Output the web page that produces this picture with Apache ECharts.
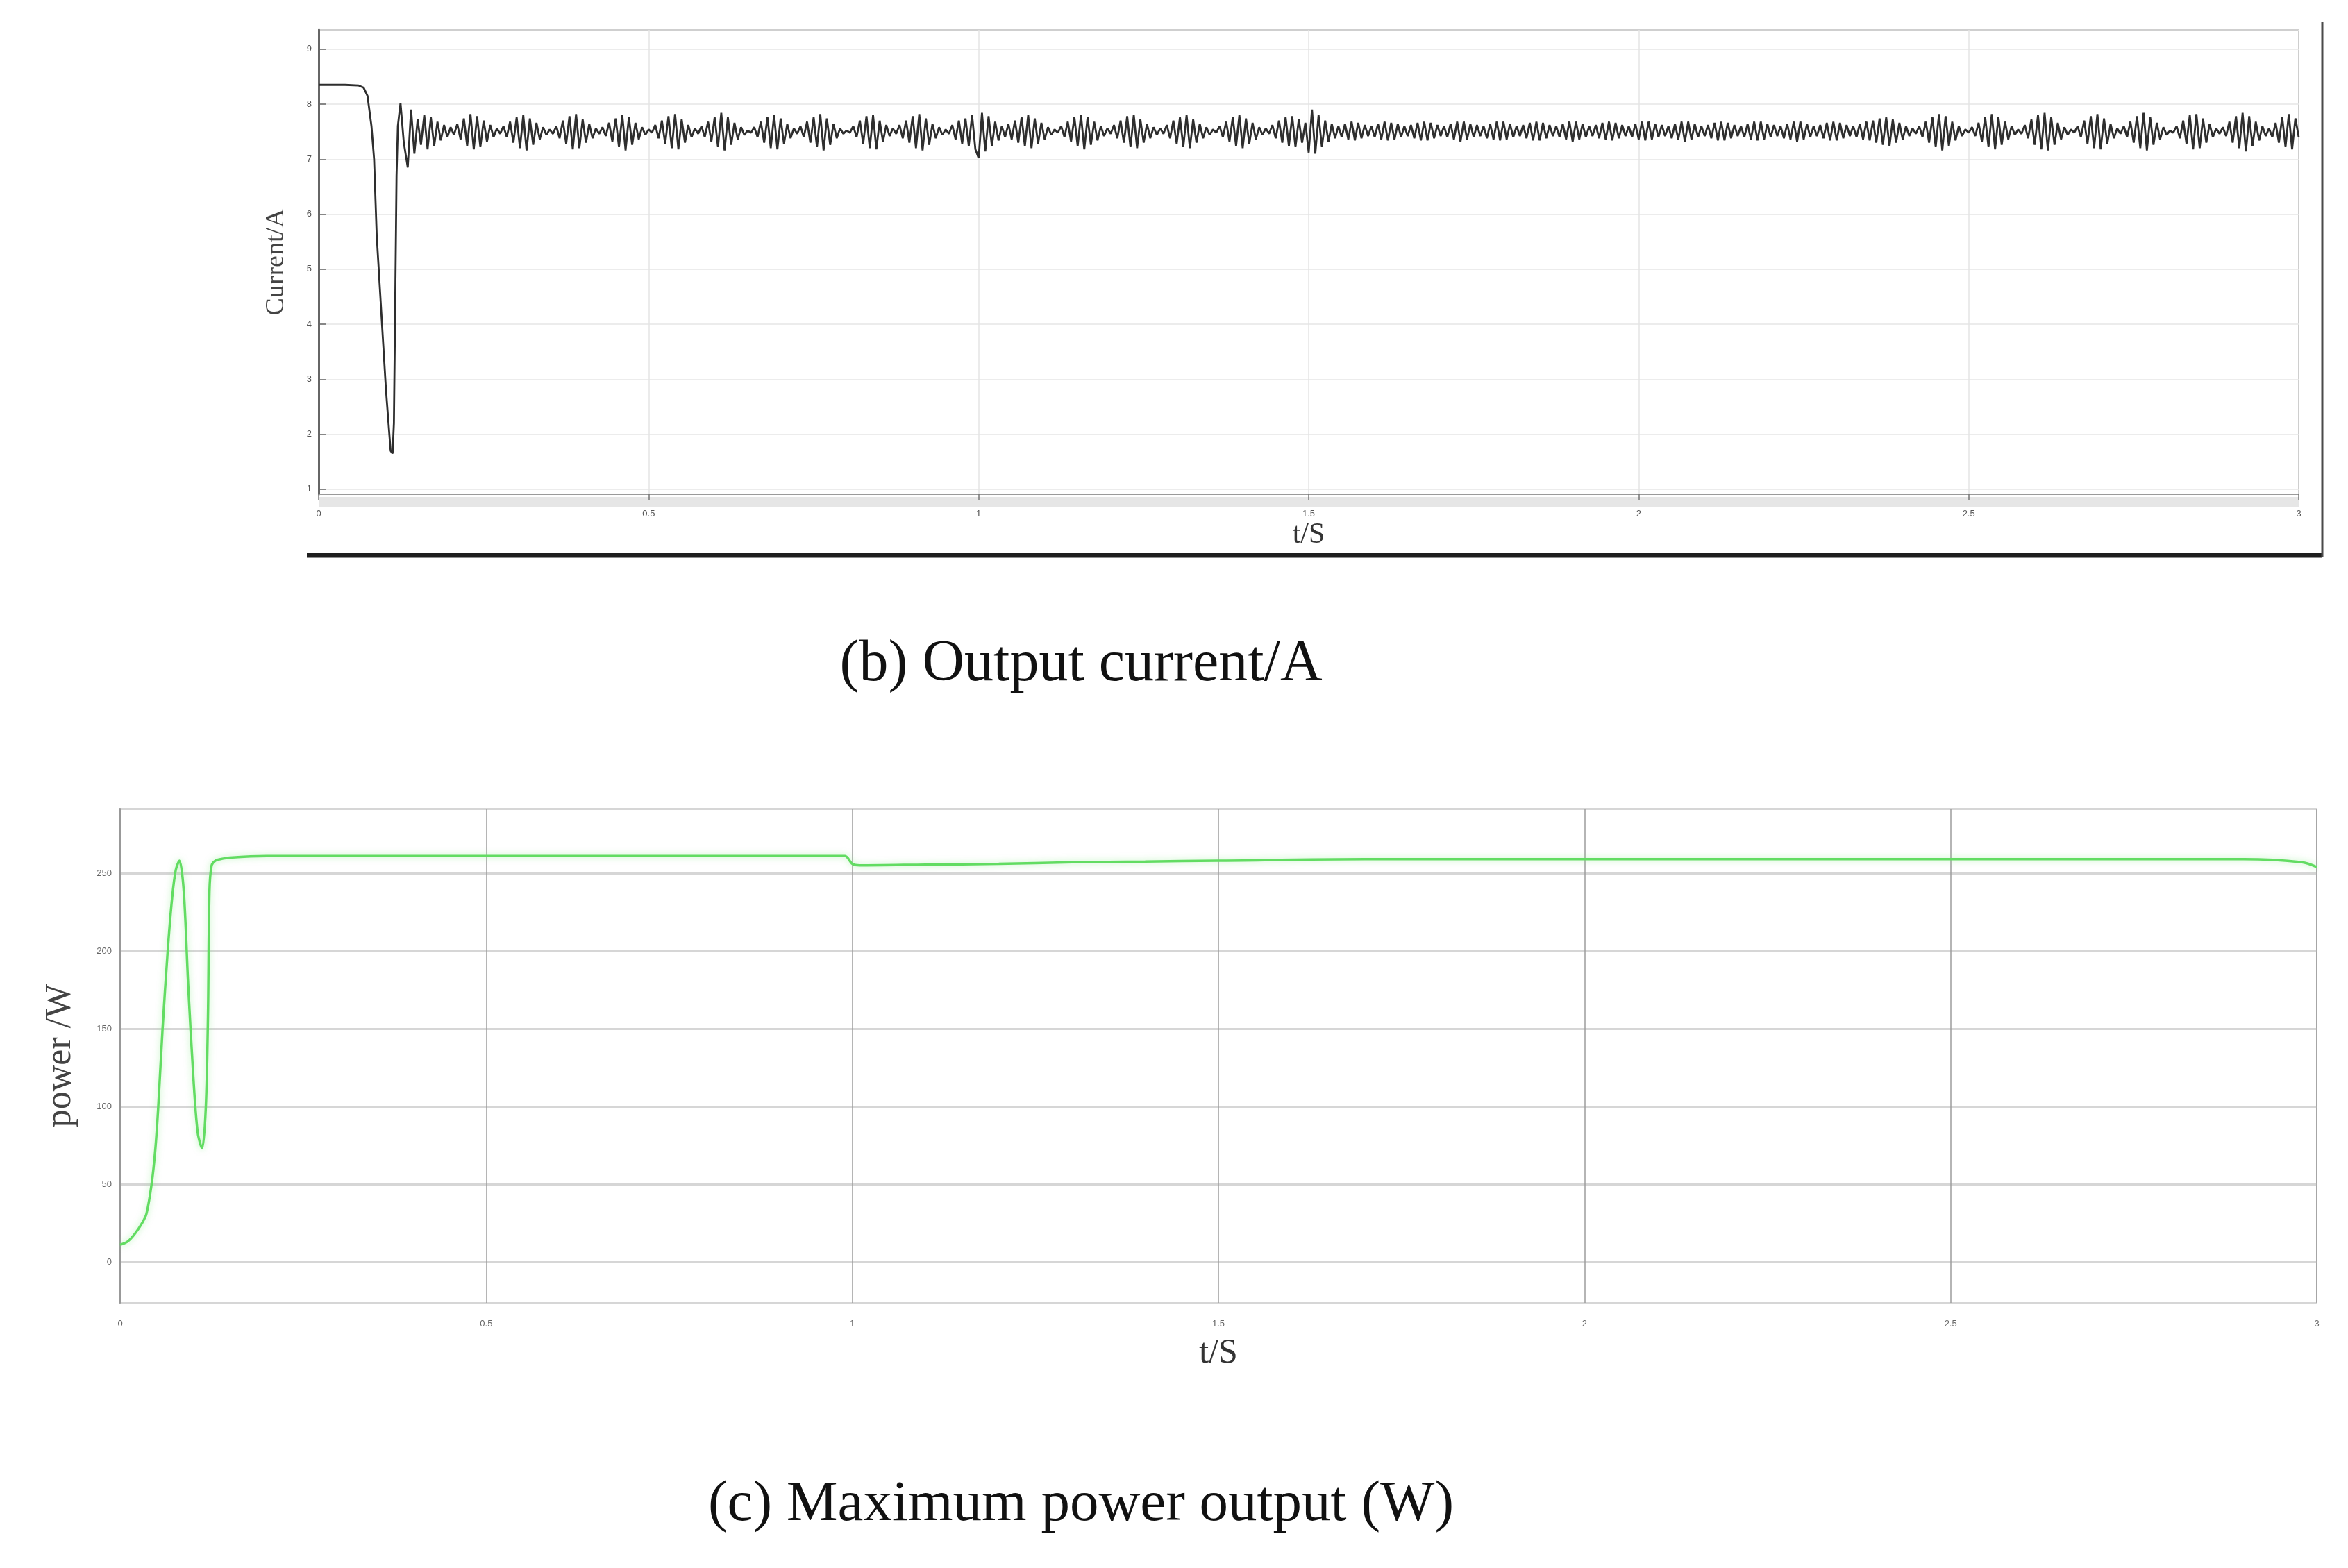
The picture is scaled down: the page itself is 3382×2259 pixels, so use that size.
<!DOCTYPE html>
<html>
<head>
<meta charset="utf-8">
<script src="https://cdn.jsdelivr.net/npm/echarts@6/dist/echarts.min.js"></script>
<style>
html,body{margin:0;padding:0;background:#fff;}
#chart{width:3382px;height:2259px;}
</style>
</head>
<body>
<div id="chart"></div>
<script>
// ---- Data ----
const xTicks = [0, 0.5, 1, 1.5, 2, 2.5, 3];
const currentTicks = [1, 2, 3, 4, 5, 6, 7, 8, 9];
const powerTicks = [0, 50, 100, 150, 200, 250];

// (b) output current: start-up transient (time s, current A)
const currentTransientT = [0, 0.02, 0.04, 0.06, 0.068, 0.074, 0.08, 0.084, 0.088, 0.095, 0.102, 0.109, 0.112, 0.114, 0.116, 0.118, 0.12, 0.124, 0.129, 0.135, 0.14, 0.145];
const currentTransientV = [8.35, 8.35, 8.35, 8.34, 8.3, 8.15, 7.6, 7.0, 5.6, 4.2, 2.8, 1.7, 1.65, 2.2, 4.4, 6.7, 7.6, 8.02, 7.3, 6.85, 7.9, 7.1];
// (b) steady ripple, sampled every 5 ms from 0.15 s
const currentSteadyStart = 0.15;
const currentSteadyStep = 0.005;
const currentSteady = [
7.72,7.26,7.80,7.18,7.76,7.24,7.68,7.34,7.62,7.40,7.58,7.44,7.64,7.36,7.74,7.24,7.82,7.18,7.78,7.22,
7.70,7.32,7.62,7.40,7.56,7.46,7.60,7.40,7.68,7.30,7.76,7.20,7.80,7.16,7.74,7.26,7.66,7.36,7.58,7.44,
7.54,7.46,7.60,7.38,7.70,7.28,7.78,7.18,7.82,7.20,7.72,7.30,7.64,7.38,7.56,7.46,7.58,7.42,7.66,7.32,
7.74,7.22,7.80,7.16,7.76,7.26,7.66,7.36,7.58,7.44,7.54,7.48,7.62,7.38,7.70,7.28,7.78,7.20,7.82,7.18,
7.72,7.30,7.62,7.40,7.56,7.46,7.60,7.40,7.68,7.32,7.76,7.22,7.84,7.16,7.76,7.26,7.66,7.36,7.58,7.44,
7.52,7.48,7.58,7.40,7.68,7.30,7.76,7.20,7.80,7.18,7.74,7.28,7.64,7.38,7.56,7.46,7.60,7.40,7.68,7.30,
7.76,7.22,7.82,7.16,7.74,7.26,7.64,7.38,7.56,7.46,7.52,7.48,7.60,7.40,7.70,7.28,7.78,7.20,7.80,7.18,
7.70,7.32,7.62,7.42,7.56,7.46,7.62,7.38,7.70,7.30,7.78,7.20,7.82,7.16,7.74,7.26,7.64,7.38,7.58,7.44,
7.54,7.46,7.62,7.36,7.70,7.28,7.74,7.24,7.80,7.18,7.02,7.84,7.14,7.78,7.24,7.68,7.34,7.60,7.40,7.64,
7.36,7.70,7.30,7.76,7.24,7.80,7.20,7.74,7.28,7.66,7.36,7.58,7.44,7.54,7.48,7.60,7.40,7.68,7.32,7.76,
7.24,7.80,7.18,7.76,7.26,7.68,7.34,7.60,7.42,7.56,7.46,7.62,7.38,7.70,7.30,7.78,7.22,7.80,7.20,7.72,
7.30,7.64,7.38,7.58,7.44,7.56,7.46,7.62,7.38,7.70,7.28,7.76,7.22,7.80,7.20,7.72,7.30,7.64,7.38,7.58,
7.44,7.54,7.48,7.60,7.40,7.68,7.32,7.76,7.24,7.80,7.20,7.74,7.28,7.66,7.36,7.58,7.44,7.56,7.46,7.62,
7.38,7.70,7.30,7.76,7.24,7.78,7.22,7.72,7.30,7.66,7.12,7.90,7.10,7.80,7.22,7.70,7.32,7.64,7.38,7.60,
7.40,7.64,7.36,7.68,7.34,7.66,7.38,7.62,7.42,7.60,7.40,7.64,7.36,7.68,7.34,7.66,7.36,7.64,7.40,7.60,
7.42,7.62,7.38,7.66,7.34,7.68,7.34,7.66,7.38,7.62,7.42,7.60,7.40,7.64,7.36,7.68,7.32,7.68,7.36,7.64,
7.40,7.62,7.42,7.60,7.38,7.64,7.36,7.68,7.34,7.68,7.36,7.64,7.40,7.60,7.42,7.62,7.38,7.66,7.34,7.68,
7.34,7.66,7.38,7.62,7.42,7.60,7.40,7.64,7.36,7.68,7.32,7.68,7.36,7.64,7.40,7.60,7.42,7.62,7.38,7.66,
7.36,7.68,7.34,7.66,7.38,7.62,7.42,7.60,7.40,7.64,7.36,7.68,7.34,7.68,7.36,7.64,7.40,7.62,7.42,7.60,
7.38,7.64,7.36,7.68,7.32,7.68,7.36,7.64,7.40,7.60,7.42,7.62,7.38,7.66,7.34,7.68,7.34,7.66,7.38,7.62,
7.42,7.60,7.40,7.64,7.36,7.68,7.34,7.68,7.36,7.64,7.40,7.62,7.42,7.60,7.38,7.64,7.36,7.68,7.32,7.68,
7.36,7.64,7.40,7.60,7.42,7.62,7.38,7.66,7.34,7.68,7.34,7.66,7.38,7.62,7.42,7.60,7.40,7.64,7.36,7.68,
7.34,7.70,7.30,7.74,7.26,7.76,7.24,7.72,7.30,7.66,7.36,7.60,7.42,7.56,7.46,7.60,7.40,7.68,7.30,7.76,
7.22,7.82,7.16,7.78,7.24,7.68,7.34,7.60,7.42,7.54,7.48,7.58,7.42,7.66,7.32,7.76,7.22,7.82,7.18,7.76,
7.26,7.68,7.36,7.60,7.44,7.54,7.46,7.62,7.38,7.72,7.26,7.80,7.18,7.84,7.16,7.76,7.26,7.66,7.36,7.58,
7.44,7.54,7.48,7.60,7.40,7.70,7.28,7.78,7.20,7.82,7.18,7.74,7.28,7.64,7.38,7.56,7.46,7.60,7.40,7.68,
7.30,7.78,7.20,7.84,7.16,7.76,7.26,7.66,7.36,7.58,7.44,7.52,7.48,7.60,7.38,7.70,7.28,7.80,7.18,7.82,
7.20,7.74,7.30,7.64,7.40,7.56,7.46,7.58,7.42,7.68,7.30,7.78,7.20,7.84,7.14,7.78,7.24,7.68,7.34,7.60,
7.42,7.56,7.40,7.66,7.30,7.76,7.22,7.82,7.18,7.74,7.40
];

// (c) maximum power output (time s, power W)
const powerT = [0, 0.01, 0.02, 0.03, 0.036, 0.043, 0.048, 0.052, 0.058, 0.065, 0.071, 0.076, 0.081, 0.087, 0.093, 0.1, 0.106, 0.112, 0.117, 0.12, 0.122, 0.125, 0.13, 0.137, 0.15, 0.2, 0.3, 0.5, 0.7, 0.9, 0.99, 1.0, 1.01, 1.1, 1.2, 1.3, 1.4, 1.5, 1.7, 2.0, 2.3, 2.6, 2.9, 2.98, 3.0];
const powerV = [11, 13, 18, 25, 31, 50, 72, 99, 150, 200, 234, 252, 258, 238, 178, 119, 83, 73, 99, 158, 238, 255, 258, 259, 260, 261, 261, 261, 261, 261, 261, 256, 255, 255.5, 256, 257, 257.5, 258, 259, 259, 259, 259, 259, 257, 254];

// ---- Build series data ----
const currentData = currentTransientT.map((t, i) => [t, currentTransientV[i]]);
currentSteady.forEach((v, i) => {
  currentData.push([+(currentSteadyStart + i * currentSteadyStep).toFixed(3), v]);
});
const powerData = powerT.map((t, i) => [t, powerV[i]]);

const serif = "'Liberation Serif', 'DejaVu Serif', serif";

const chart = echarts.init(document.getElementById('chart'), null, {renderer: 'canvas'});
chart.setOption({
  animation: false,
  backgroundColor: '#ffffff',
  grid: [
    {left: 459, right: 71, top: 43, bottom: 1547, show: true, borderColor: '#8a8a8a', borderWidth: 2, containLabel: false},
    {left: 173, right: 45, top: 1165, bottom: 382, show: true, borderColor: '#c4c4c4', borderWidth: 2, containLabel: false}
  ],
  xAxis: [
    {
      gridIndex: 0, type: 'value', min: xTicks[0], max: xTicks[xTicks.length - 1], interval: 0.5,
      axisLine: {show: true, lineStyle: {color: '#9a9a9a', width: 2}},
      axisTick: {show: true, length: 8, lineStyle: {color: '#777', width: 1.5}},
      axisLabel: {fontSize: 13, color: '#555', margin: 22, fontFamily: 'Arial'},
      splitLine: {show: true, lineStyle: {color: '#e4e4e4', width: 1.5}},
      name: 't/S', nameLocation: 'middle', nameGap: 38,
      nameTextStyle: {fontFamily: serif, fontSize: 42, color: '#333'}
    },
    {
      gridIndex: 1, type: 'value', min: xTicks[0], max: xTicks[xTicks.length - 1], interval: 0.5,
      axisLine: {show: false},
      axisTick: {show: false},
      axisLabel: {fontSize: 13, color: '#666', margin: 24, fontFamily: 'Arial'},
      splitLine: {show: true, lineStyle: {color: '#9c9c9c', width: 1.5}},
      name: 't/S', nameLocation: 'middle', nameGap: 48,
      nameTextStyle: {fontFamily: serif, fontSize: 50, color: '#333'}
    }
  ],
  yAxis: [
    {
      gridIndex: 0, type: 'value', min: 0.91, max: 9.35, splitNumber: 8,
      axisLine: {show: true, lineStyle: {color: '#666', width: 3}},
      axisTick: {show: true, inside: true, length: 10, lineStyle: {color: '#666', width: 1.5}},
      axisLabel: {fontSize: 13, color: '#555', margin: 10, fontFamily: 'Arial', showMinLabel: false, showMaxLabel: false},
      splitLine: {show: true, lineStyle: {color: '#e6e6e6', width: 1.5}},
      name: 'Current/A', nameLocation: 'middle', nameGap: 42, nameRotate: 90,
      nameTextStyle: {fontFamily: serif, fontSize: 38, color: '#444'}
    },
    {
      gridIndex: 1, type: 'value', min: -26.3, max: 291.5, splitNumber: 6,
      axisLine: {show: true, lineStyle: {color: '#999', width: 2}},
      axisTick: {show: false},
      axisLabel: {fontSize: 13, color: '#666', margin: 12, fontFamily: 'Arial', showMinLabel: false, showMaxLabel: false},
      splitLine: {show: true, lineStyle: {color: '#d6d6d6', width: 3}},
      name: 'power /W', nameLocation: 'middle', nameGap: 60, nameRotate: 90,
      nameTextStyle: {fontFamily: serif, fontSize: 52, color: '#444'}
    }
  ],
  series: [
    {
      type: 'line', xAxisIndex: 0, yAxisIndex: 0, data: currentData,
      showSymbol: false, symbol: 'none', smooth: false,
      lineStyle: {color: '#2e2e2e', width: 2.8}
    },
    {
      type: 'line', xAxisIndex: 1, yAxisIndex: 1, data: powerData,
      showSymbol: false, symbol: 'none', smooth: 0.3,
      lineStyle: {color: '#62dc62', width: 3.5, shadowColor: 'rgba(120,230,120,0.55)', shadowBlur: 10}
    }
  ],
  graphic: [
    {type: 'rect', silent: true, shape: {x: 459, y: 716, width: 2852, height: 14}, style: {fill: '#e6e6e6'}, z: -1},
    {type: 'line', silent: true, shape: {x1: 442, y1: 800, x2: 3345, y2: 800}, style: {stroke: '#1e1e1e', lineWidth: 7}},
    {type: 'line', silent: true, shape: {x1: 3345, y1: 32, x2: 3345, y2: 803}, style: {stroke: '#4a4a4a', lineWidth: 3}},
    {type: 'text', silent: true, style: {text: '(b) Output current/A', x: 1557, y: 958, align: 'center', verticalAlign: 'middle', font: "84px 'Liberation Serif', serif", fill: '#111'}},
    {type: 'text', silent: true, style: {text: '(c) Maximum power output (W)', x: 1557, y: 2168, align: 'center', verticalAlign: 'middle', font: "83px 'Liberation Serif', serif", fill: '#111'}}
  ]
});
</script>
</body>
</html>
